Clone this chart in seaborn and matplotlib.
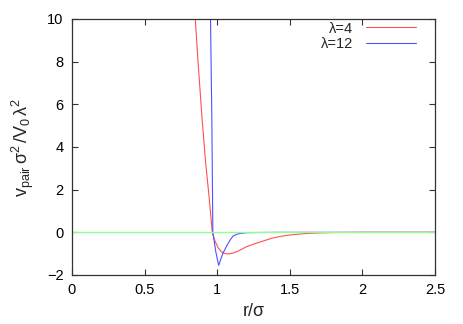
import matplotlib
matplotlib.use("Agg")
import matplotlib.pyplot as plt
import seaborn as sns
import pandas as pd

# Data
r_l4 = [0.83, 0.849, 0.87, 0.895, 0.92, 0.945, 0.966, 0.985, 1.007, 1.03, 1.05, 1.07,
        1.09, 1.11, 1.15, 1.2, 1.265, 1.32, 1.37, 1.42, 1.48, 1.6, 1.7, 1.8, 2.0, 2.25, 2.5]
v_l4 = [12.0, 10.0, 7.8, 5.4, 3.3, 1.6, 0.0, -0.41, -0.73, -0.92, -0.99, -1.01,
        -1.0, -0.97, -0.86, -0.68, -0.52, -0.4, -0.29, -0.21, -0.14, -0.06, -0.03, -0.01, 0.0, 0.0, 0.0]
r_l12 = [0.95, 0.954, 0.963, 0.97, 0.99, 1.01, 1.025, 1.04, 1.067, 1.09, 1.11, 1.135,
         1.16, 1.2, 1.25, 1.4, 1.8, 2.5]
v_l12 = [12.0, 10.0, 5.4, 0.0, -0.9, -1.55, -1.25, -0.97, -0.62, -0.35, -0.17, -0.09,
         -0.05, -0.02, -0.01, 0.0, 0.0, 0.0]
r_zero = [0.0, 2.5]
v_zero = [0.0, 0.0]
labels = ["λ=4", "λ=12"]
xticks = [0, 0.5, 1, 1.5, 2, 2.5]
yticks = [-2, 0, 2, 4, 6, 8, 10]

sns.set_theme(style="ticks")
plt.rcParams["font.family"] = ["Liberation Sans", "DejaVu Sans"]
plt.rcParams["mathtext.fontset"] = "custom"
plt.rcParams["mathtext.rm"] = "Liberation Sans"
plt.rcParams["mathtext.it"] = "Liberation Sans"
plt.rcParams["mathtext.sf"] = "Liberation Sans"

fig = plt.figure(figsize=(4.63, 3.24), dpi=100)
ax = fig.add_axes([72 / 463, 1 - 275 / 324, (435 - 72) / 463, (275 - 19) / 324])

df4 = pd.DataFrame({"r": r_l4, "v": v_l4})
df12 = pd.DataFrame({"r": r_l12, "v": v_l12})
dfz = pd.DataFrame({"r": r_zero, "v": v_zero})

sns.lineplot(data=df4, x="r", y="v", ax=ax, color="#ff5050", lw=0.8, label=labels[0])
sns.lineplot(data=df12, x="r", y="v", ax=ax, color="#5050ff", lw=0.8, label=labels[1])
sns.lineplot(data=dfz, x="r", y="v", ax=ax, color="#90ff90", lw=1.0, label="_nolegend_")

ax.set_xlim(0, 2.5)
ax.set_ylim(-2, 10)
ax.set_xticks(xticks)
ax.set_xticklabels(["0", "0.5", "1", "1.5", "2", "2.5"])
ax.set_yticks(yticks)
ax.tick_params(direction="in", length=4, width=0.8, top=True, right=True,
               labelsize=10.5, colors="#333333", labelcolor="black", pad=6)
for s in ax.spines.values():
    s.set_linewidth(0.9)
    s.set_color("#333333")

ax.set_xlabel(r"r/σ", fontsize=13, labelpad=4)
ax.set_ylabel(r"$\mathrm{v_{pair}\,\sigma^2\,/V_0\,\lambda^2}$", fontsize=13, labelpad=8)

leg = ax.legend(loc="upper right", bbox_to_anchor=(0.975, 1.03), frameon=False,
                markerfirst=False, fontsize=10.5, handlelength=3.4, handletextpad=0.9,
                labelspacing=0.1, borderaxespad=0.3)

fig.savefig("out.png", dpi=100)
